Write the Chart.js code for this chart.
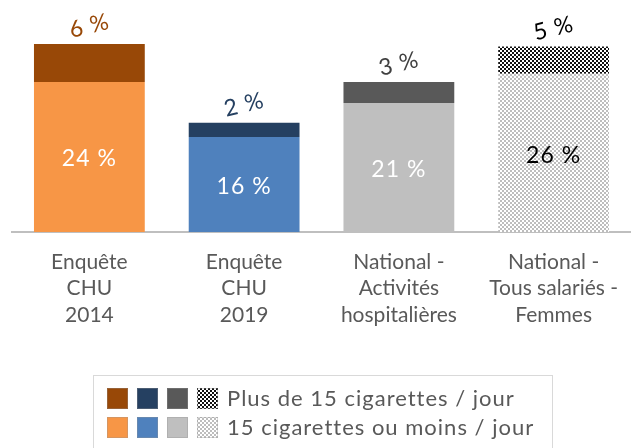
<!DOCTYPE html>
<html>
<head>
<meta charset="utf-8">
<script src="https://cdn.jsdelivr.net/npm/chart.js"></script>
<style>
  html, body { margin: 0; padding: 0; background: #fff; }
  #wrap { width: 631px; height: 448px; }
</style>
</head>
<body>
<div id="wrap"><canvas id="tabacChart" width="631" height="448"></canvas></div>
<script>
const categories = [
    ['Enquête', 'CHU', '2014'],
    ['Enquête', 'CHU', '2019'],
    ['National -', 'Activités', 'hospitalières'],
    ['National -', 'Tous salariés -', 'Femmes']
];
const seriesNames = ['15 cigarettes ou moins / jour', 'Plus de 15 cigarettes / jour'];
// heights, printed labels kept as shown
const lowValues = [24.2, 15.3, 20.8, 25.5];
const highValues = [6.1, 2.3, 3.4, 4.4];
const lowLabels = ['24 %', '16 %', '21 %', '26 %'];
const highLabels = ['6 %', '2 %', '3 %', '5 %'];

function checker(a, b, size) {
    const c = document.createElement('canvas');
    c.width = size * 2; c.height = size * 2;
    const g = c.getContext('2d');
    g.fillStyle = b; g.fillRect(0, 0, size * 2, size * 2);
    g.fillStyle = a;
    g.fillRect(0, 0, size, size);
    g.fillRect(size, size, size, size);
    return g.createPattern(c, 'repeat');
}

const lowColors = ['#f79646', '#4f81bd', '#bfbfbf', checker('#bdbdbd', '#ffffff', 2)];
const highColors = ['#984807', '#254061', '#595959', checker('#111111', '#ffffff', 2)];
const lowTextColors = ['#ffffff', '#ffffff', '#ffffff', '#000000'];
const highTextColors = ['#984807', '#254061', '#404040', '#000000'];

const FONT = 'Lato, "Noto Sans", sans-serif';

const barLabels = {
    id: 'barLabels',
    afterDatasetsDraw(chart) {
        const ctx = chart.ctx;
        const low = chart.getDatasetMeta(0).data;
        const high = chart.getDatasetMeta(1).data;
        ctx.save();
        ctx.textAlign = 'center';
        ctx.textBaseline = 'middle';
        ctx.font = '23px ' + FONT;
        ctx.letterSpacing = '1px';
        low.forEach((bar, i) => {
            ctx.fillStyle = lowTextColors[i];
            const mid = (bar.y + bar.base) / 2 + (i === 3 ? 3 : 2);
            ctx.fillText(lowLabels[i], bar.x, mid);
        });
        high.forEach((bar, i) => {
            ctx.save();
            ctx.translate(bar.x, bar.y - 18);
            ctx.rotate(-0.24);
            ctx.fillStyle = highTextColors[i];
            ctx.fillText(highLabels[i], 0, 0);
            ctx.restore();
        });
        ctx.restore();
    }
};

const boxLegend = {
    id: 'boxLegend',
    afterDraw(chart) {
        const ctx = chart.ctx;
        ctx.save();
        ctx.strokeStyle = '#d9d9d9';
        ctx.lineWidth = 1;
        ctx.strokeRect(93.5, 375.5, 459, 90);
        const rows = [
            { colors: highColors, text: seriesNames[1], y: 388 },
            { colors: lowColors, text: seriesNames[0], y: 417 }
        ];
        ctx.font = '22px ' + FONT;
        ctx.letterSpacing = '1px';
        ctx.textBaseline = 'middle';
        ctx.textAlign = 'left';
        rows.forEach(r => {
            r.colors.forEach((c, i) => {
                const x = 107 + i * 30;
                ctx.fillStyle = c;
                ctx.fillRect(x, r.y, 21, 21);
                ctx.strokeStyle = 'rgba(150,150,150,0.35)';
                ctx.strokeRect(x + 0.5, r.y + 0.5, 20, 20);
            });
            ctx.fillStyle = '#595959';
            ctx.fillText(r.text, 227, r.y + 11);
        });
        ctx.restore();
    }
};

const ctx = document.getElementById('tabacChart').getContext('2d');

const tabacChart = new Chart(ctx, {
    type: 'bar',
    data: {
        labels: categories,
        datasets: [
            {
                label: seriesNames[0],
                data: lowValues,
                backgroundColor: lowColors,
                borderWidth: 0
            },
            {
                label: seriesNames[1],
                data: highValues,
                backgroundColor: highColors,
                borderWidth: 0
            }
        ]
    },
    options: {
        responsive: false,
        animation: false,
        layout: { padding: { left: 12, right: -3, top: 0, bottom: 0 } },
        categoryPercentage: 1,
        barPercentage: 0.716,
        scales: {
            x: {
                stacked: true,
                grid: { display: false, drawTicks: false },
                border: { display: true, color: '#bfbfbf', width: 2 },
                ticks: {
                    color: '#595959',
                    font: { family: FONT, size: 21, lineHeight: 1.26 },
                    padding: 17,
                    maxRotation: 0,
                    autoSkip: false
                },
                afterFit(scale) {
                    scale.height = 448 - 232;
                    scale.paddingLeft = 0;
                    scale.paddingRight = 0;
                }
            },
            y: {
                stacked: true,
                display: false,
                min: 0,
                max: 37.4
            }
        },
        plugins: {
            legend: { display: false },
            tooltip: { enabled: false }
        }
    },
    plugins: [barLabels, boxLegend]
});
</script>
</body>
</html>
